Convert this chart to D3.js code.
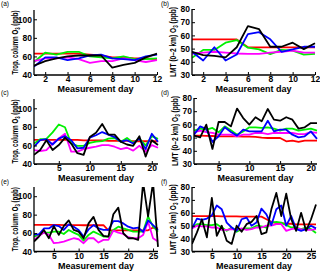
<!DOCTYPE html>
<html><head><meta charset="utf-8">
<script src="https://cdn.jsdelivr.net/npm/d3@7"></script>
<style>body{margin:0;background:#fff}svg{display:block}text{font-family:"Liberation Sans",Arial,sans-serif}</style>
</head><body><svg id="c" width="320" height="271"></svg>
<script>
// ---- data ----
const days12 = d3.range(1, 13);
const days21 = d3.range(1, 22);
const days26 = d3.range(1, 27);

const aRed = [63,63,63,63,63,62,61,59,59,58,58,57];
const aGreen = [54,64,62,65,65,60,59,58,60,57,57,58];
const aBlue = [49,59,59,56,58,61,62,58,57,56,60,62];
const aMagenta = [55,58,58,59,57,53,55,55,58,56,54,56];
const aBlack = [50,55,58,60,61,61,61,48,51,53,59,63];

const bRed = [57,57,57,57,57,51,51,51,51,51,51,51];
const bGreen = [43,49,49,54.5,56.5,50.7,49.4,45.8,49,48.4,45.5,46];
const bBlue = [47.6,41,51,41,45.5,61,62.4,57,47.6,49.4,51.4,51.4];
const bMagenta = [46.3,47,47.6,47,46.3,46,46,47,47.6,48.4,47,47];
const bBlack = [47.6,45,44.5,43.3,51,67,64.7,51.4,51.4,54.5,49.6,54];

const cRed = [66,66,66,66,66,66,66,66,65.5,65.5,65.5,65.5,65,65,65,65,64.5,64.5,64.5,64.5,64.5];
const cGreen = [62,66.7,67,74,82.5,79.6,62,59.6,59.6,62.8,64,64.6,67.4,68,64,68,63,67.4,60,70,67];
const cBlue = [58.6,65.6,66.7,61,67.4,70,65.6,56.8,57.5,68.4,71,74.4,71.6,69,64,65.6,62,67.4,56,72.6,64];
const cMagenta = [55,54,55,62,67.4,72.6,53.3,53.3,56,57.5,58.6,60.4,60.4,58.6,56,57.5,54.4,59.6,53.3,60.4,57.5];
const cBlack = [49.8,55,65.6,55,60.4,68.4,62,51.6,49.8,69,73.7,83,71.6,71.6,64,61,59.6,70,48,65.6,60.4];

const dRed = [51.5,51.5,51.3,51.2,51,51,51,51,50.8,50.7,50.5,50,49.7,49.7,49.7,47.2,47.7,46.7,47.7,47.7,47.7];
const dGreen = [55.3,56.8,56,57.3,54,58.5,55.5,52.2,54.7,57.8,57.8,57.3,57.8,56.8,55.3,56.8,56.8,55.3,56,56.8,55.3];
const dBlue = [52.2,58.5,56.5,46.7,51,57.8,54.2,51.5,56,54.7,54.7,54.7,62.8,54.7,56,56,52.2,50.2,51,54.7,49];
const dMagenta = [54,55.3,54.2,53.5,52.2,52.2,52.2,51,52.2,52.2,53.5,53.5,52.7,53.5,53.5,53.5,53.5,52.7,52.7,54.2,53.5];
const dBlack = [51.5,50.2,59.8,41.4,61.8,61.8,58.5,72,64.8,59.8,65.4,62.3,71.7,63.6,62.8,65.4,63.6,56.8,57.8,61,61];

const eRed = [69,69,69,69,69,69,68.7,68.7,68.7,68.7,68.5,68.5,68.5,68.5,68.5,63,63,63,63,63,63,63,63,63,66,65];
const eGreen = [56.2,58,60.5,60.5,61.6,61.6,59,63.4,60.5,58,51.9,58,61.6,59,56.2,56.2,63.4,66.9,65,63.4,61.6,61.6,61.6,78,66.9,61.6];
const eBlue = [58.6,58.6,65,65,68.7,67.6,63.4,69.4,66.9,63.4,56.2,64,68.7,65,63.4,63.4,73,73,70.5,66.9,65,66,61.3,73.8,68.7,63.4];
const eMagenta = [52.6,56.9,60.5,58,49,49.7,50.8,52.6,54.4,53.3,49,54.4,54.4,49.7,52.6,52.6,62.7,60.5,59,55.5,54.4,54.4,58,72.3,54.4,50.8];
const eBlack = [50.8,56.2,63.4,54.4,67.6,58,67.6,73.8,63.4,61.6,54.4,70.5,77.6,63.4,57,56.2,80.4,87.6,59.8,54.4,54.4,52.6,115,78,115,45];

const fRed = [57.5,57.5,57.5,57.5,57.5,57.5,57.3,57.3,57.2,57.2,57,57,57,57,57,55,53,52,52,51.5,51.5,51,51,51,51,51];
const fGreen = [48.6,51.2,51.2,50.4,50.4,51.2,48.6,46,48.6,45.3,47.3,47.9,47.9,50,49.4,48.6,52.4,53,52.4,50.4,48.6,48.6,47.3,48.6,47.3,44.3];
const fBlue = [47.9,55.5,54.5,55.5,58,65.7,62.7,52.4,48.6,46,55,56.3,50,52.4,63.2,58.8,50.4,62.7,65.7,50,57.5,47.3,46,47.3,50,47.9];
const fMagenta = [47.9,50,49.4,49.4,48.6,48.6,46.8,46.8,47.3,46.8,47.9,46.8,47.3,48.6,48.6,50,50,51.2,51.2,46,47.3,47.9,47.3,46.8,46.8,47.3];
const fBlack = [35.9,44.8,55,41,71.6,42.2,50,38.4,35.9,50,45.3,51.2,53,57.5,43.5,44.8,62.7,75.4,57.5,74.9,55,46,60,46,55,66.5];

const xTicks12 = [2,4,6,8,10,12];
const xTicks21 = [5,10,15,20];
const xTicks26 = [5,10,15,20,25];
const yTicksTrop = [40,60,80,100];
const yTicksLmt = [30,40,50,60,70,80];
const labels = ["(a)","(b)","(c)","(d)","(e)","(f)"];
const yLabelTrop = ["Trop. column O","3"," (ppb)"];
const yLabelLmt = ["LMT (0–2 km) O","3"," (ppb)"];
const xLabel = "Measurement day";
const seriesColors = ["#ff0000","#00f000","#ff00ff","#0000ff","#000000"];

// ---- panels ----
const panels = [
  {lab:0, xr:[34,157], yr:[75,10], yd:[40,110], days:days12, xt:xTicks12, yt:yTicksTrop, yl:yLabelTrop, yll:64, s:[aRed,aGreen,aMagenta,aBlue,aBlack], lx:1, ly:6},
  {lab:1, xr:[192,315], yr:[75,9], yd:[30,80], days:days12, xt:xTicks12, yt:yTicksLmt, yl:yLabelLmt, yll:70, s:[bRed,bGreen,bMagenta,bBlue,bBlack], lx:161, ly:6},
  {lab:2, xr:[34,158], yr:[164,99], yd:[40,110], days:days21, xt:xTicks21, yt:yTicksTrop, yl:yLabelTrop, yll:64, s:[cRed,cGreen,cMagenta,cBlue,cBlack], lx:1, ly:95},
  {lab:3, xr:[194,317], yr:[164,98], yd:[30,80], days:days21, xt:xTicks21, yt:yTicksLmt, yl:yLabelLmt, yll:70, s:[dRed,dGreen,dMagenta,dBlue,dBlack], lx:161, ly:95},
  {lab:4, xr:[34,158], yr:[251.5,187], yd:[40,110], days:days26, xt:xTicks26, yt:yTicksTrop, yl:yLabelTrop, yll:64, s:[eRed,eGreen,eMagenta,eBlue,eBlack], lx:1, ly:184},
  {lab:5, xr:[192,316], yr:[251.5,187], yd:[30,80], days:days26, xt:xTicks26, yt:yTicksLmt, yl:yLabelLmt, yll:70, s:[fRed,fGreen,fMagenta,fBlue,fBlack], lx:161, ly:184}
];

const svg = d3.select("#c");
panels.forEach((p, i) => {
  const x = d3.scaleLinear().domain([p.days[0], p.days[p.days.length-1]]).range(p.xr);
  const y = d3.scaleLinear().domain(p.yd).range(p.yr);
  const g = svg.append("g");
  const cid = "clip" + i;
  g.append("clipPath").attr("id", cid).append("rect")
    .attr("x", p.xr[0]).attr("y", p.yr[1]).attr("width", p.xr[1]-p.xr[0]+2).attr("height", p.yr[0]-p.yr[1]);
  const line = d3.line().x((d, k) => x(p.days[k])).y(d => y(d));
  const lg = g.append("g").attr("clip-path", `url(#${cid})`);
  p.s.forEach((arr, k) => {
    lg.append("path").datum(arr).attr("d", line).attr("fill","none")
      .attr("stroke", seriesColors[k]).attr("stroke-width", 1.8).attr("stroke-linejoin","round");
  });
  // axes
  const xa = g.append("g").attr("transform", `translate(0,${p.yr[0]})`)
    .call(d3.axisBottom(x).tickValues(p.xt).tickSize(-3).tickPadding(1).tickSizeOuter(0));
  const ya = g.append("g").attr("transform", `translate(${p.xr[0]},0)`)
    .call(d3.axisLeft(y).tickValues(p.yt).tickSize(-3).tickPadding(2).tickSizeOuter(0));
  [xa, ya].forEach(a => {
    a.select(".domain").attr("stroke","#000").attr("stroke-width",1.3);
    a.selectAll(".tick line").attr("stroke","#000").attr("stroke-width",1);
    a.selectAll("text").attr("font-size", 8.5).attr("font-weight","bold").attr("fill","#000")
      .attr("font-family",'"Liberation Sans",Arial,sans-serif');
  });
  ya.select(".domain").attr("d", `M0,${p.yr[0]}V${p.yr[1]}`);
  xa.select(".domain").attr("d", `M${p.xr[0]},0H${p.xr[1]}`);
  // x label
  g.append("text").attr("x", (p.xr[0]+p.xr[1])/2).attr("y", p.yr[0]+17)
    .attr("text-anchor","middle").attr("font-size",9).attr("font-weight","bold")
    .attr("textLength", 76).attr("lengthAdjust","spacingAndGlyphs").text(xLabel);
  // y label
  const cy = (p.yr[0]+p.yr[1])/2;
  const lx = p.xr[0] - 16;
  const yt = g.append("text").attr("transform", `translate(${lx},${cy}) rotate(-90)`)
    .attr("text-anchor","middle").attr("font-size",9.5).attr("font-weight","bold")
    .attr("textLength", p.yll).attr("lengthAdjust","spacingAndGlyphs");
  yt.append("tspan").text(p.yl[0]);
  yt.append("tspan").attr("font-size",6.5).attr("dy",2).text(p.yl[1]);
  yt.append("tspan").attr("dy",-2).text(p.yl[2]);
  // panel label
  g.append("text").attr("x", p.lx).attr("y", p.ly).attr("font-size",6.5).text(labels[p.lab]);
});
</script></body></html>
